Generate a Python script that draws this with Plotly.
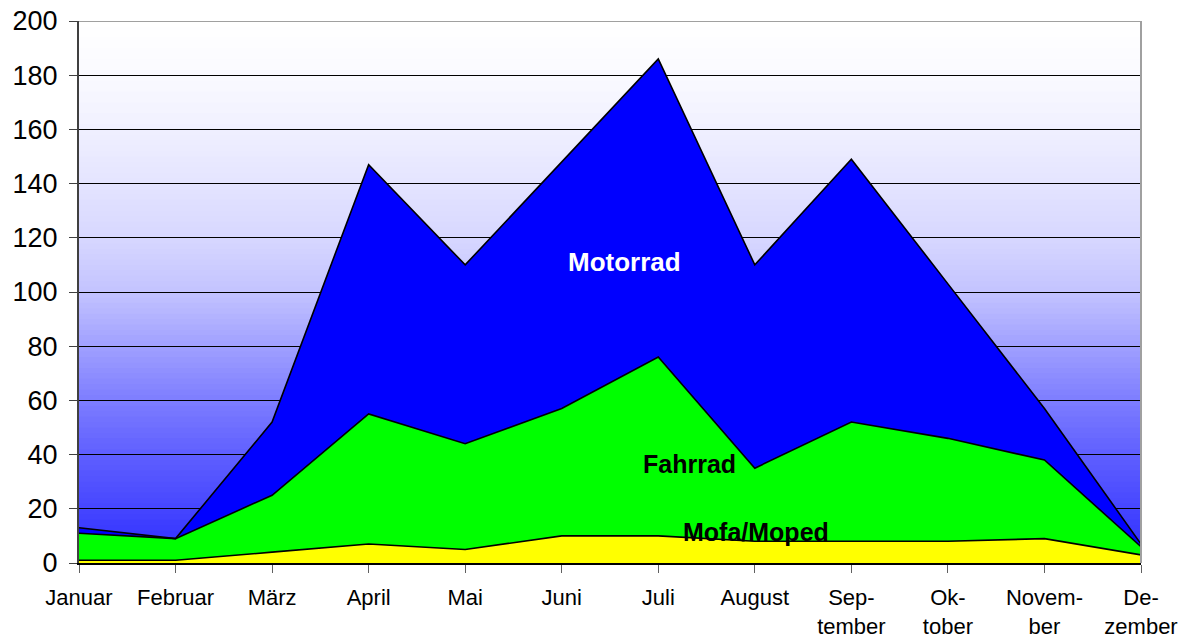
import plotly.graph_objects as go

months = ["Januar", "Februar", "März", "April", "Mai", "Juni", "Juli",
          "August", "September", "Oktober", "November", "Dezember"]
month_labels = ["Januar", "Februar", "März", "April", "Mai", "Juni", "Juli",
                "August", "Sep-<br>tember", "Ok-<br>tober", "Novem-<br>ber", "De-<br>zember"]
mofa = [1, 1, 4, 7, 5, 10, 10, 8, 8, 8, 9, 3]
fahrrad = [10, 8, 21, 48, 39, 47, 66, 27, 44, 38, 29, 3]
motorrad = [2, 0, 27, 92, 66, 91, 110, 75, 97, 57, 19, 1]
y_ticks = [0, 20, 40, 60, 80, 100, 120, 140, 160, 180, 200]

FONT = "Liberation Sans, Arial, sans-serif"

fig = go.Figure()
series = [("Mofa/Moped", mofa, "#ffff00"),
          ("Fahrrad", fahrrad, "#00ff00"),
          ("Motorrad", motorrad, "#0000ff")]
for name, vals, col in series:
    fig.add_trace(go.Scatter(x=months, y=vals, name=name, stackgroup="one",
                             mode="lines", line=dict(color="black", width=1.6),
                             fillcolor=col, hoverinfo="x+y+name"))

# background gradient bands (white at top -> blue at bottom)
stops = [(0.0, (40, 40, 255)), (0.1, (70, 70, 255)), (0.2, (95, 95, 255)),
         (0.3, (125, 125, 255)), (0.4, (160, 160, 255)), (0.5, (195, 195, 255)),
         (0.6, (215, 215, 255)), (0.7, (228, 228, 255)), (0.8, (240, 240, 255)),
         (0.9, (250, 250, 255)), (1.0, (255, 255, 255))]

def interp(f):
    for (a, ca), (b, cb) in zip(stops[:-1], stops[1:]):
        if a <= f <= b:
            t = (f - a) / (b - a)
            return tuple(round(ca[k] + (cb[k] - ca[k]) * t) for k in range(3))
    return stops[-1][1]

shapes = []
N = 100
for i in range(N):
    f = (i + 0.5) / N
    c = interp(f)
    shapes.append(dict(type="rect", xref="paper", yref="y", x0=0, x1=1,
                       y0=200 * i / N, y1=200 * (i + 1) / N + 0.6,
                       fillcolor="rgb(%d,%d,%d)" % c, line=dict(width=0),
                       layer="below"))
# gray top and right border
shapes.append(dict(type="line", xref="paper", yref="y", x0=0, x1=1, y0=200, y1=200,
                   line=dict(color="#a0a0a0", width=2), layer="above"))
shapes.append(dict(type="line", xref="paper", yref="paper", x0=1, x1=1, y0=0, y1=1,
                   line=dict(color="#a0a0a0", width=2), layer="above"))

annotations = [
    dict(x=5.65, y=111, text="<b>Motorrad</b>", showarrow=False,
         font=dict(family=FONT, size=26, color="white")),
    dict(x=6.32, y=36.5, text="<b>Fahrrad</b>", showarrow=False,
         font=dict(family=FONT, size=25, color="black")),
    dict(x=7.01, y=11.4, text="<b>Mofa/Moped</b>", showarrow=False,
         font=dict(family=FONT, size=25, color="black")),
]

fig.update_layout(
    width=1179, height=633,
    margin=dict(l=71, r=46, t=13, b=78, autoexpand=False),
    paper_bgcolor="white", plot_bgcolor="white",
    showlegend=False,
    shapes=shapes, annotations=annotations,
    font=dict(family=FONT, color="black"),
    xaxis=dict(type="category", range=[0, 11], tickvals=months, ticktext=month_labels,
               automargin=False, ticklabeloverflow="allow",
               showgrid=False, zeroline=False, showline=True, linecolor="black", linewidth=2,
               ticks="outside", ticklen=8, tickcolor="#606060", tickwidth=1,
               tickfont=dict(family=FONT, size=22, color="black"),
               ticklabelstandoff=6),
    yaxis=dict(range=[0, 200], tickvals=y_ticks, showgrid=True, gridcolor="black",
               automargin=False, ticklabeloverflow="allow",
               gridwidth=1, zeroline=False, showline=True, linecolor="#404040",
               linewidth=2, ticks="outside", ticklen=8, tickcolor="#404040",
               tickfont=dict(family=FONT, size=27, color="black"),
               ticklabelstandoff=6),
)

fig.write_html("out.html")
